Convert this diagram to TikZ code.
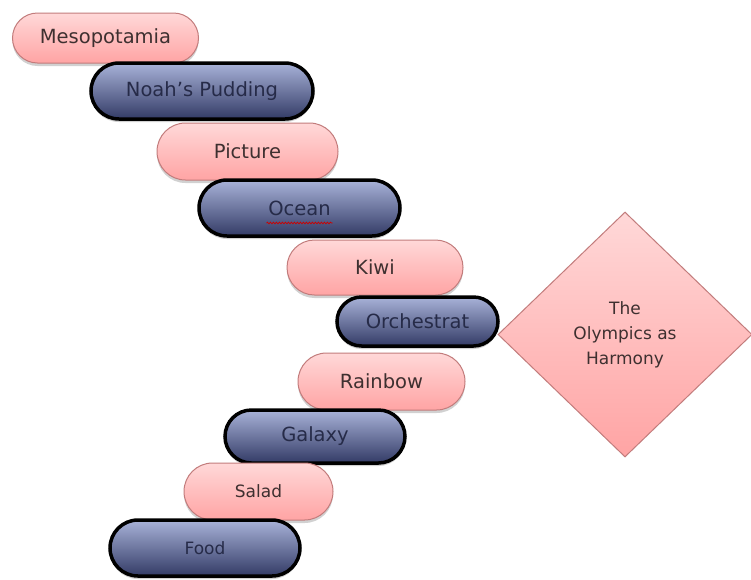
\documentclass[tikz,border=0pt]{standalone}
\usepackage{fontspec}
\setmainfont{DejaVu Sans}
\usetikzlibrary{shapes.geometric,shadows,decorations.pathmorphing}
\definecolor{pinkT}{HTML}{FFD8D8}
\definecolor{pinkB}{HTML}{FFA4A4}
\definecolor{pinkD}{HTML}{C27C7C}
\definecolor{navyT}{HTML}{A8B2D8}
\definecolor{navyB}{HTML}{333B66}
\definecolor{txtP}{HTML}{3E3030}
\definecolor{txtN}{HTML}{262B48}
\begin{document}
\begin{tikzpicture}[x=1pt,y=-1pt,
  pill/.style={rectangle, inner sep=0pt, font=\fontsize{19.5}{22}\selectfont,
    drop shadow={shadow xshift=0pt, shadow yshift=-3pt, opacity=0.18, fill=black}},
  pinkpill/.style 2 args={pill, draw=pinkD, line width=1pt, top color=pinkT,
    bottom color=pinkB, text=txtP, minimum width=#1pt, minimum height=#2pt,
    rounded corners=#2*0.5pt},
  navypill/.style 2 args={pill, draw=black, line width=3.5pt, top color=navyT,
    bottom color=navyB, text=txtN, minimum width=#1pt, minimum height=#2pt,
    rounded corners=#2*0.5pt},
  small/.style={font=\fontsize{17}{20}\selectfont}]
\fill[white] (0,0) rectangle (751,579);
\useasboundingbox (0,0) rectangle (751,579);

\node[diamond, draw=pinkD, line width=1pt, top color=pinkT, bottom color=pinkB,
  minimum width=254pt, minimum height=245pt, inner sep=0pt, align=center,
  text=txtP, font=\fontsize{17}{25}\selectfont] (olymp) at (625,334.5)
  {The\\Olympics as\\Harmony};

\node[pinkpill={186}{50}] (meso) at (105.5,38) {Mesopotamia};
\node[navypill={222}{56}] (noah) at (202,91) {Noah's Pudding};
\node[pinkpill={181}{57}] (pic) at (247.5,151.5) {Picture};
\node[navypill={201}{56}] (ocean) at (299.5,208) {Ocean};
\node[pinkpill={176}{55}] (kiwi) at (375,267.5) {Kiwi};
\node[navypill={161}{49}] (orch) at (417.5,321.5) {Orchestrat};
\node[pinkpill={167}{57}] (rain) at (381.5,381.5) {Rainbow};
\node[navypill={180}{53}] (gal) at (315,436.5) {Galaxy};
\node[pinkpill={149}{57}, small] (salad) at (258.5,491.5) {Salad};
\node[navypill={190}{56}, small] (food) at (205,548) {Food};

\draw[red!80!black, line width=0.7pt, decorate,
  decoration={snake, segment length=3pt, amplitude=0.9pt}]
  (ocean.center) ++(-33,15) -- ++(66,0);
\end{tikzpicture}
\end{document}
